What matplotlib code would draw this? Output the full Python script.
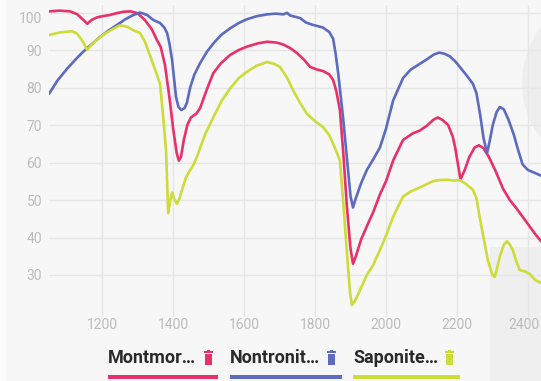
import matplotlib
matplotlib.use("Agg")
import matplotlib.pyplot as plt
from matplotlib.patches import Rectangle, Ellipse
from matplotlib.transforms import ScaledTranslation

# ---- spectra (wavelength in nm, reflectance in %) ----
mont_wl = [1050, 1080, 1110, 1130, 1145, 1158, 1170, 1185, 1200, 1220, 1240, 1260,
           1280, 1300, 1320, 1340, 1355, 1365, 1377, 1390, 1400, 1410, 1416, 1422,
           1430, 1440, 1450, 1465, 1476, 1495, 1513, 1535, 1561, 1585, 1608, 1640,
           1665, 1690, 1710, 1730, 1749, 1770, 1786, 1805, 1822, 1840, 1851, 1860,
           1870, 1880, 1890, 1900, 1907, 1915, 1930, 1946, 1965, 1983, 2000, 2020,
           2048, 2076, 2095, 2115, 2135, 2146, 2160, 2175, 2188, 2195, 2203, 2210,
           2222, 2235, 2250, 2262, 2275, 2290, 2310, 2330, 2349, 2370, 2397, 2420, 2437]
mont_val = [100.3, 100.5, 100.3, 99.5, 98.2, 97.0, 98.0, 98.7, 99.0, 99.3, 99.8, 100.2,
            100.3, 99.8, 98.0, 95.5, 92.5, 90.8, 86.0, 77.0, 69.0, 62.5, 60.5, 61.5,
            66.0, 70.0, 72.0, 73.0, 74.5, 79.5, 83.8, 86.5, 88.7, 90.0, 90.9, 91.8,
            92.2, 92.0, 91.5, 90.5, 89.2, 87.3, 85.5, 84.8, 84.4, 83.5, 82.0, 79.0,
            74.0, 62.0, 48.0, 37.0, 33.0, 35.0, 39.5, 43.0, 47.0, 51.5, 55.0, 60.5,
            66.0, 67.8, 68.5, 69.8, 71.5, 72.0, 71.3, 70.0, 67.0, 64.0, 59.5, 55.5,
            58.0, 61.5, 64.0, 64.6, 63.8, 61.5, 57.5, 53.0, 50.0, 47.5, 44.0, 41.0, 39.0]

nont_wl = [1050, 1075, 1101, 1125, 1146, 1170, 1194, 1218, 1242, 1265, 1287, 1307,
           1327, 1344, 1363, 1375, 1383, 1390, 1397, 1403, 1408, 1415, 1423, 1432,
           1439, 1448, 1460, 1476, 1495, 1513, 1535, 1561, 1585, 1608, 1635, 1665,
           1690, 1710, 1721, 1730, 1758, 1775, 1794, 1810, 1822, 1840, 1851, 1858,
           1865, 1872, 1879, 1890, 1900, 1907, 1915, 1930, 1946, 1965, 1983, 2000,
           2020, 2048, 2070, 2087, 2115, 2135, 2150, 2165, 2180, 2195, 2208, 2225,
           2245, 2255, 2265, 2275, 2285, 2293, 2301, 2312, 2321, 2332, 2345, 2360,
           2372, 2385, 2400, 2420, 2437]
nont_val = [78.3, 82.0, 85.0, 87.5, 89.5, 91.5, 93.5, 95.2, 96.7, 98.2, 99.3, 100.0,
            99.3, 98.0, 97.2, 96.0, 94.5, 91.5, 87.3, 82.0, 77.5, 74.8, 74.0, 74.5,
            76.0, 80.0, 83.5, 86.5, 89.5, 91.7, 94.0, 95.8, 97.2, 98.2, 99.0, 99.5,
            99.7, 99.5, 99.9, 99.2, 98.5, 97.3, 96.7, 96.3, 96.0, 94.8, 93.0, 89.0,
            84.0, 78.0, 72.0, 61.0, 51.0, 48.0, 50.5, 54.5, 58.0, 61.0, 64.0, 69.0,
            76.5, 82.5, 84.8, 85.8, 87.5, 88.8, 89.3, 89.0, 88.3, 87.0, 85.5, 83.5,
            81.0, 78.5, 73.0, 66.5, 62.5, 66.0, 70.0, 73.5, 74.8, 74.2, 71.5, 67.5,
            63.5, 59.5, 58.0, 57.2, 56.5]

sapo_wl = [1050, 1082, 1115, 1130, 1145, 1158, 1168, 1180, 1194, 1210, 1230, 1250,
           1270, 1287, 1307, 1320, 1335, 1350, 1363, 1372, 1380, 1386, 1392, 1397,
           1404, 1411, 1418, 1425, 1436, 1448, 1458, 1467, 1490, 1513, 1537, 1561,
           1585, 1608, 1635, 1665, 1685, 1701, 1720, 1738, 1757, 1777, 1800, 1822,
           1840, 1851, 1862, 1870, 1879, 1886, 1893, 1899, 1904, 1912, 1927, 1946,
           1963, 1983, 2000, 2020, 2048, 2070, 2087, 2110, 2132, 2150, 2172, 2190,
           2208, 2225, 2245, 2255, 2263, 2273, 2287, 2300, 2307, 2315, 2321, 2332,
           2341, 2350, 2358, 2368, 2377, 2390, 2405, 2420, 2437]
sapo_val = [94.0, 94.7, 95.0, 94.3, 92.3, 90.0, 91.2, 92.3, 93.5, 94.5, 95.6, 96.6,
            96.2, 95.3, 94.5, 92.3, 88.5, 84.5, 81.0, 72.0, 63.0, 46.5, 50.0, 52.0,
            50.0, 49.0, 50.5, 52.7, 56.0, 58.0, 59.5, 61.5, 67.5, 72.0, 76.5, 79.8,
            82.5, 84.2, 85.8, 86.8, 86.3, 85.5, 82.8, 79.3, 76.0, 73.0, 71.0, 69.5,
            67.3, 65.0, 62.5, 60.5, 50.0, 41.0, 32.0, 25.0, 22.0, 23.0, 26.0, 30.0,
            32.5, 36.7, 40.5, 45.5, 50.9, 52.3, 53.0, 54.0, 55.0, 55.3, 55.4, 55.2,
            55.3, 54.3, 52.7, 50.5, 46.0, 41.0, 34.0, 30.0, 29.5, 32.5, 35.0, 38.0,
            39.0, 38.0, 36.5, 33.5, 31.3, 31.0, 30.3, 28.7, 27.9]

series_names = ["Montmor…", "Nontronit…", "Saponite…"]
series_colors = ["#e8306a", "#5c6bc0", "#cddc39"]
x_ticks = [1200, 1400, 1600, 1800, 2000, 2200, 2400]
y_ticks = [30, 40, 50, 60, 70, 80, 90, 100]

W, H = 541, 381
BG = "#f7f7f7"


def fx(px):
    return px / W


def fy(py):
    return 1 - py / H


fig = plt.figure(figsize=(W / 100, H / 100), dpi=100, facecolor=BG)

# soft backdrop shading behind the plot
fig.patches.append(Rectangle((0, 0), fx(6), 1, transform=fig.transFigure,
                             facecolor="#fcfcfc", edgecolor="none", zorder=-2))
fig.patches.append(Ellipse((fx(613), fy(83)), 2 * 91 / W, 2 * 91 / H,
                           transform=fig.transFigure, facecolor="#eeeeee",
                           edgecolor="none", zorder=-2))
fig.patches.append(Rectangle((fx(490), 0), fx(541) - fx(490), fy(247),
                             transform=fig.transFigure, facecolor="#efefef",
                             edgecolor="none", zorder=-2))

ax = fig.add_axes([fx(49), fy(317), fx(541) - fx(49), fy(5) - fy(317)])
ax.set_facecolor("none")
ax.set_xlim(1050, 2437)
ax.set_ylim(100 - (317 - 12.5) / 3.75, 100 + (12.5 - 5) / 3.75)

for wl, val, col in zip([mont_wl, nont_wl, sapo_wl],
                        [mont_val, nont_val, sapo_val], series_colors):
    ax.plot(wl, val, color=col, lw=1.9, solid_joinstyle="round",
            solid_capstyle="round", zorder=3)

ax.set_xticks(x_ticks)
ax.set_yticks(y_ticks)
ax.grid(True, color="#e6e6e6", lw=1.0, zorder=0)
ax.set_axisbelow(True)
for s in ax.spines.values():
    s.set_visible(False)
ax.tick_params(axis="both", length=0, labelcolor="#bcbcbc", labelsize=10)
ax.tick_params(axis="x", pad=1)
ax.tick_params(axis="y", pad=5)
for lbl in ax.get_xticklabels() + ax.get_yticklabels():
    lbl.set_fontfamily("Roboto")

# keep the outermost labels inside the canvas
xl = ax.get_xticklabels()[-1]
xl.set_transform(xl.get_transform() + ScaledTranslation(-4 / 100, 0, fig.dpi_scale_trans))
yl = ax.get_yticklabels()[-1]
yl.set_transform(yl.get_transform() + ScaledTranslation(0, -5 / 100, fig.dpi_scale_trans))

# legend along the bottom: label, bin icon, coloured underline
legend_x = [108, 230, 353]
icon_x = [204, 327, 445]
line_end = [218, 342, 460]
for name, col, lx, ix, le in zip(series_names, series_colors, legend_x, icon_x, line_end):
    fig.text(fx(lx), fy(358), name, fontsize=13, fontweight="bold",
             family="Roboto", color="#2a2a2a", ha="left", va="center")
    # bin icon: handle, lid, body
    fig.patches.append(Rectangle((fx(ix + 3), fy(351)), fx(3), fy(350) - fy(351),
                                 transform=fig.transFigure, facecolor=col, edgecolor="none"))
    fig.patches.append(Rectangle((fx(ix), fy(353)), fx(9), fy(351) - fy(353),
                                 transform=fig.transFigure, facecolor=col, edgecolor="none"))
    fig.patches.append(Rectangle((fx(ix + 1), fy(365)), fx(7), fy(354) - fy(365),
                                 transform=fig.transFigure, facecolor=col, edgecolor="none"))
    fig.patches.append(Rectangle((fx(lx), fy(378.5)), fx(le - lx), fy(375.5) - fy(378.5),
                                 transform=fig.transFigure, facecolor=col, edgecolor="none"))

fig.savefig("out.png", dpi=100, facecolor=BG)
